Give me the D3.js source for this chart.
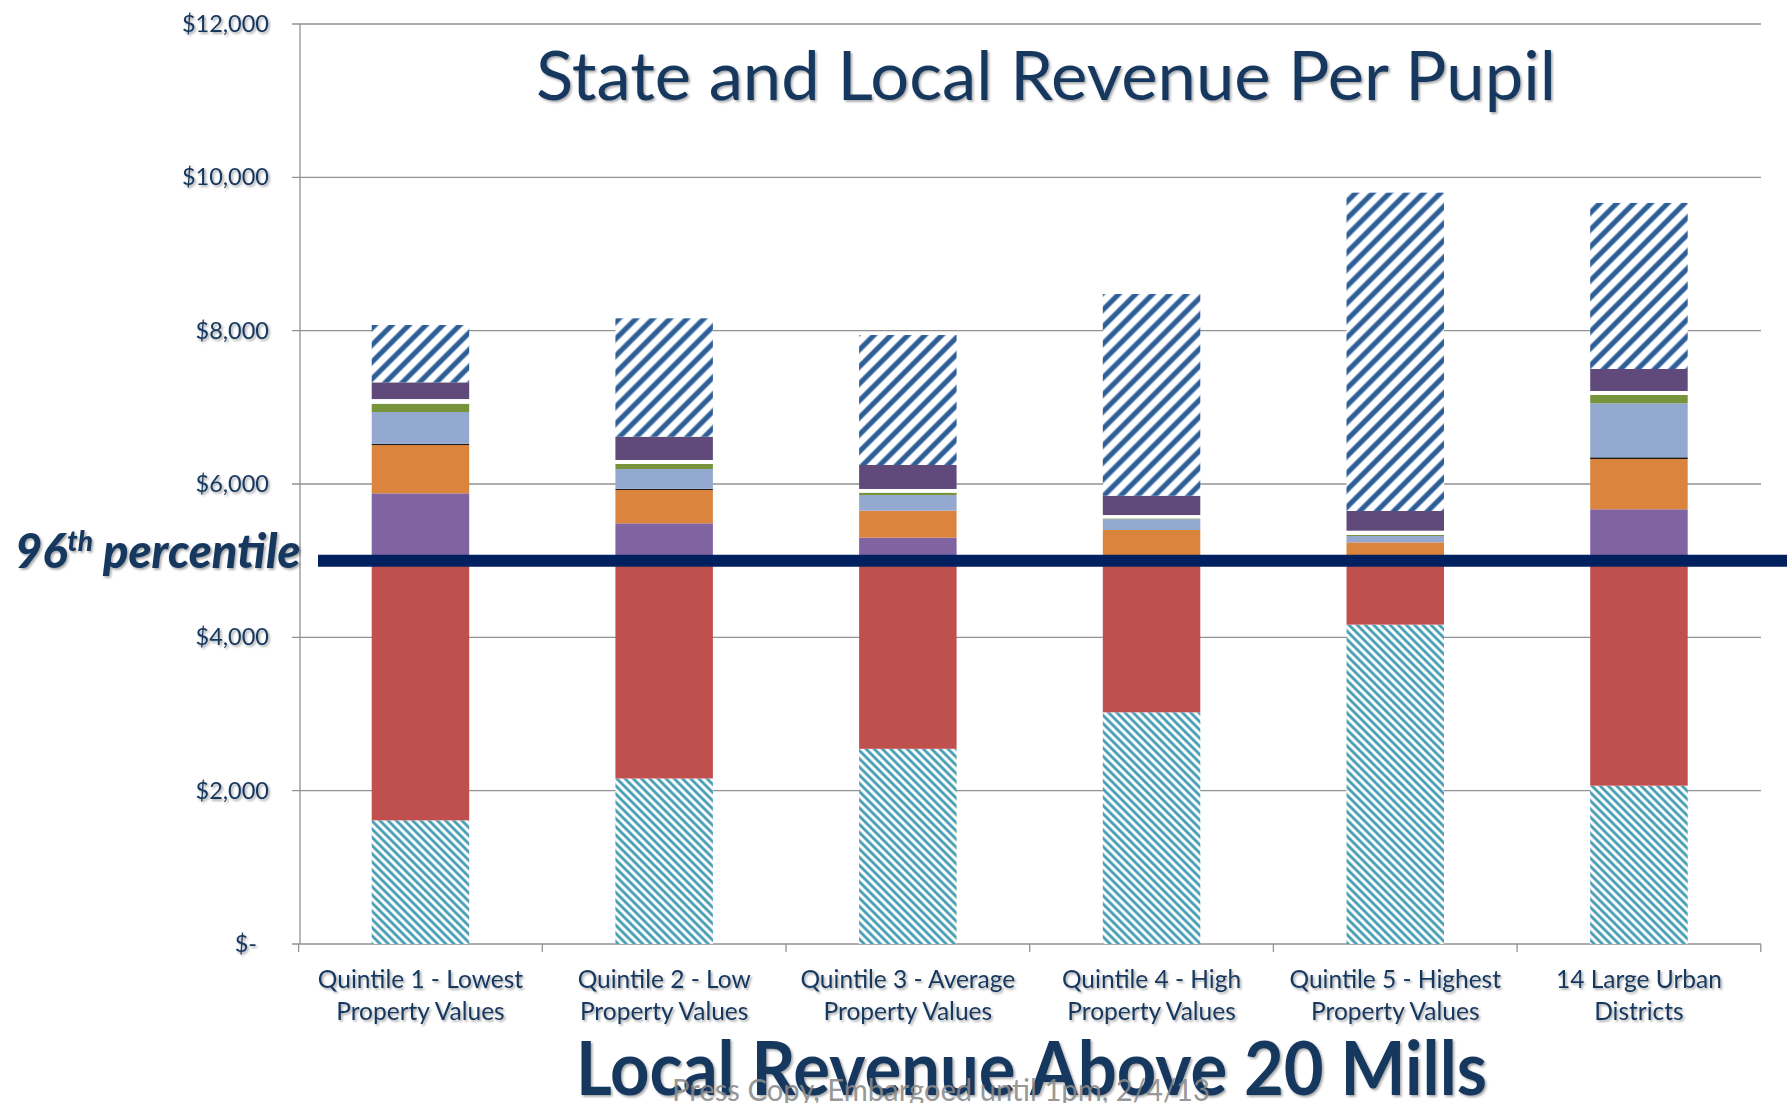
<!DOCTYPE html>
<html>
<head>
<meta charset="utf-8">
<script src="https://cdn.jsdelivr.net/npm/d3@7"></script>
<style>
  html, body { margin: 0; padding: 0; background: #fff; }
  svg { display: block; font-family: Lato, "Open Sans", sans-serif; }
</style>
</head>
<body>
<svg id="chart" width="1787" height="1103"></svg>
<script>
// category labels (two lines each)
const categories = ['Q1', 'Q2', 'Q3', 'Q4', 'Q5', 'Urban'];
const categoryLabels = [
  ['Quintile 1 - Lowest', 'Property Values'],
  ['Quintile 2 - Low', 'Property Values'],
  ['Quintile 3 - Average', 'Property Values'],
  ['Quintile 4 - High', 'Property Values'],
  ['Quintile 5 - Highest', 'Property Values'],
  ['14 Large Urban', 'Districts']
];

// stacked series, bottom to top ($ per pupil)
const localBelow20 = [1613, 2159, 2546, 3022, 4166, 2065];
const stateAid = [3337, 2791, 2404, 1928, 784, 2885];
const purpleSeries = [928, 537, 350, 100, 60, 720];
const orangeSeries = [630, 435, 352, 350, 229, 656];
const blackSeries = [15, 15, 0, 0, 0, 22];
const lightBlueSeries = [416, 259, 204, 141, 83, 704];
const greenSeries = [108, 65, 31, 10, 13, 109];
const whiteSeries = [61, 52, 48, 44, 56, 52];
const darkPurpleSeries = [218, 304, 313, 252, 257, 287];
const localAbove20 = [748, 1544, 1695, 2631, 4152, 2166];

const yTicks = [0, 2000, 4000, 6000, 8000, 10000, 12000];
const yTickLabels = ['$-', '$2,000', '$4,000', '$6,000', '$8,000', '$10,000', '$12,000'];
const percentile96 = 5000;

const keys = ['localBelow20', 'stateAid', 'purple', 'orange', 'black', 'lightBlue',
  'green', 'white', 'darkPurple', 'localAbove20'];
const fills = {
  localBelow20: 'url(#hatchTeal)',
  stateAid: '#C0504D',
  purple: '#8064A2',
  orange: '#DB843D',
  black: '#1a1a1a',
  lightBlue: '#93A9CF',
  green: '#77933C',
  white: '#ffffff',
  darkPurple: '#604A7B',
  localAbove20: 'url(#hatchBlue)'
};

const rows = categories.map((c, i) => ({
  cat: c,
  localBelow20: localBelow20[i],
  stateAid: stateAid[i],
  purple: purpleSeries[i],
  orange: orangeSeries[i],
  black: blackSeries[i],
  lightBlue: lightBlueSeries[i],
  green: greenSeries[i],
  white: whiteSeries[i],
  darkPurple: darkPurpleSeries[i],
  localAbove20: localAbove20[i]
}));

const textColor = '#17375E';
const gridColor = '#929292';

const svg = d3.select('#chart');
const defs = svg.append('defs');

// soft text shadow like the original slide
defs.append('filter').attr('id', 'shadow')
  .attr('x', '-10%').attr('y', '-20%').attr('width', '130%').attr('height', '150%')
  .append('feDropShadow')
  .attr('dx', 1.6).attr('dy', 1.8).attr('stdDeviation', 1.2)
  .attr('flood-color', '#000').attr('flood-opacity', 0.35);

// teal wide downward diagonal
const pt = defs.append('pattern').attr('id', 'hatchTeal')
  .attr('patternUnits', 'userSpaceOnUse')
  .attr('width', 5.8).attr('height', 5.8)
  .attr('patternTransform', 'rotate(-45)');
pt.append('rect').attr('width', 5.8).attr('height', 5.8).attr('fill', '#fff');
pt.append('rect').attr('x', 0).attr('width', 3.2).attr('height', 5.8).attr('fill', '#8cc6d4');
pt.append('rect').attr('x', 0.6).attr('width', 2.0).attr('height', 5.8).attr('fill', '#3D96AC');

// blue wide upward diagonal
const pb = defs.append('pattern').attr('id', 'hatchBlue')
  .attr('patternUnits', 'userSpaceOnUse')
  .attr('width', 12).attr('height', 12)
  .attr('patternTransform', 'rotate(45)');
pb.append('rect').attr('width', 12).attr('height', 12).attr('fill', '#fff');
pb.append('rect').attr('x', 0).attr('width', 6).attr('height', 12).attr('fill', '#88a5c8');
pb.append('rect').attr('x', 1).attr('width', 4).attr('height', 12).attr('fill', '#2E5E96');

// scales
const x = d3.scaleBand().domain(categories).range([298.6, 1760.8])
  .paddingInner(0.6).paddingOuter(0.3);
const y = d3.scaleLinear().domain([0, 12000]).range([944, 24]);

// gridlines
svg.append('g').selectAll('line').data(yTicks).join('line')
  .attr('x1', 292).attr('x2', 1761)
  .attr('y1', d => y(d)).attr('y2', d => y(d))
  .attr('stroke', gridColor).attr('stroke-width', 1.3);

// y axis line
svg.append('line').attr('x1', 300).attr('x2', 300).attr('y1', y(12000)).attr('y2', y(0))
  .attr('stroke', gridColor).attr('stroke-width', 1.3);

// x axis category ticks
const bounds = d3.range(categories.length + 1).map(i => 298.6 + i * x.step());
svg.append('g').selectAll('line').data(bounds).join('line')
  .attr('x1', d => d).attr('x2', d => d)
  .attr('y1', y(0)).attr('y2', y(0) + 8)
  .attr('stroke', gridColor).attr('stroke-width', 1.3);

// stacked bars
const stacked = d3.stack().keys(keys)(rows);
svg.append('g').selectAll('g').data(stacked).join('g')
  .attr('fill', d => fills[d.key])
  .selectAll('rect').data(d => d).join('rect')
  .attr('x', d => x(d.data.cat))
  .attr('width', x.bandwidth())
  .attr('y', d => y(d[1]))
  .attr('height', d => Math.max(0, y(d[0]) - y(d[1])));

// 96th percentile line
svg.append('line')
  .attr('x1', 318).attr('x2', 1787)
  .attr('y1', y(percentile96)).attr('y2', y(percentile96))
  .attr('stroke', '#002060').attr('stroke-width', 12);

// y tick labels
svg.append('g').attr('filter', 'url(#shadow)')
  .selectAll('text').data(yTicks).join('text')
  .attr('x', (d, i) => i === 0 ? 257 : 269)
  .attr('y', d => y(d) + 8)
  .attr('text-anchor', 'end')
  .attr('font-size', 23.5)
  .attr('fill', textColor)
  .text((d, i) => yTickLabels[i]);

// category labels
const catG = svg.append('g').attr('filter', 'url(#shadow)');
categories.forEach((c, i) => {
  categoryLabels[i].forEach((line, j) => {
    catG.append('text')
      .attr('x', x(c) + x.bandwidth() / 2)
      .attr('y', 988 + j * 32)
      .attr('text-anchor', 'middle')
      .attr('font-size', 24.5)
      .attr('fill', textColor)
      .text(line);
  });
});

// 96th percentile label
const pl = svg.append('text')
  .attr('x', 15).attr('y', 568)
  .attr('font-size', 47).attr('font-weight', 900).attr('font-style', 'italic')
  .attr('fill', textColor).attr('filter', 'url(#shadow)');
pl.append('tspan').text('96');
pl.append('tspan').attr('dy', -17).attr('font-size', 28).text('th');
pl.append('tspan').attr('dy', 17).text(' percentile');

// chart title
svg.append('text')
  .attr('x', 536).attr('y', 100)
  .attr('font-size', 68)
  .attr('textLength', 1020).attr('lengthAdjust', 'spacingAndGlyphs')
  .attr('fill', textColor).attr('filter', 'url(#shadow)')
  .text('State and Local Revenue Per Pupil');

// bottom heading
svg.append('text')
  .attr('x', 576).attr('y', 1095)
  .attr('font-size', 74).attr('font-weight', 'bold')
  .attr('textLength', 911).attr('lengthAdjust', 'spacingAndGlyphs')
  .attr('fill', textColor).attr('filter', 'url(#shadow)')
  .text('Local Revenue Above 20 Mills');

// press footer
svg.append('text')
  .attr('x', 672).attr('y', 1101)
  .attr('font-size', 31)
  .attr('textLength', 538).attr('lengthAdjust', 'spacingAndGlyphs')
  .attr('fill', '#8a8a8a').attr('fill-opacity', 0.9)
  .text('Press Copy, Embargoed until 1pm, 2/4/13');
</script>
</body>
</html>
